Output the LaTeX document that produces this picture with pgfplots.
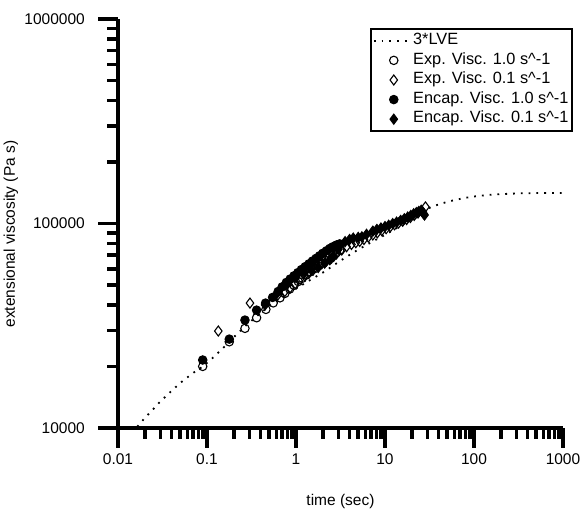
\documentclass[border=0pt]{standalone}
\usepackage{fontspec}
\setmainfont{Liberation Sans}
\usepackage{pgfplots}
\pgfplotsset{compat=1.18}
\pgfplotsset{
  lineleg/.style={legend image code/.code={\draw[##1] (0pt,0pt) -- (37pt,0pt);}},
  markleg/.style={legend image code/.code={\draw[##1] plot coordinates {(20pt,0pt)};}},
}
\tikzset{
  xlab/.style={anchor=base, inner sep=0pt, yshift=-37pt, font=\fontsize{15.5}{18}\selectfont},
  ylab/.style={anchor=east, inner sep=0pt, xshift=-33pt, font=\fontsize{15.5}{18}\selectfont},
}

\begin{document}
\begin{tikzpicture}
\useasboundingbox (-118pt,-82pt) rectangle (463pt,428pt);
\begin{axis}[
  at={(0pt,0pt)}, anchor=south west,
  scale only axis, width=445pt, height=409pt,
  xmode=log, ymode=log,
  xmin=0.01, xmax=1000, ymin=10000, ymax=1000000,
  axis x line*=bottom, axis y line*=left,
  axis line style={line width=4.5pt, -},
  tick align=outside,
  major tick length=20pt, minor tick length=11pt,
  tick style={black, line width=3.5pt},
  major tick style={black, line width=3.5pt},
  minor tick style={black, line width=3.5pt},
  xtick={0.01,0.1,1,10,100,1000},
  xticklabels={},
  minor xtick={0.02,0.03,0.04,0.05,0.06,0.07,0.08,0.09,0.2,0.3,0.4,0.5,0.6,0.7,0.8,0.9,2,3,4,5,6,7,8,9,20,30,40,50,60,70,80,90,200,300,400,500,600,700,800,900},
  ytick={10000,100000,1000000},
  yticklabels={},
  minor ytick={20000,30000,40000,50000,60000,70000,80000,90000,200000,300000,400000,500000,600000,700000,800000,900000},
  xlabel={time (sec)}, ylabel={extensional viscosity (Pa s)},
  every axis x label/.style={at={(axis description cs:0.5,-0.180)}, anchor=center, font=\fontsize{15.5}{18}\selectfont},
  every axis y label/.style={at={(axis description cs:-0.2405,0.474)}, anchor=center, rotate=90, font=\fontsize{15.5}{18}\selectfont},
  legend style={at={(1.0225,0.978)}, anchor=north east, draw=black, line width=2pt,
    font=\fontsize{16.3}{19}\selectfont, inner sep=2pt, row sep=0pt,
    nodes={inner sep=1.5pt, text height=12pt, text depth=4.6pt},
    cells={anchor=west}},
  clip=false,
]
\addplot[black, line width=1.8pt, dash pattern=on 1.8pt off 6pt, lineleg]
  coordinates {
  (0.0165,10150) (0.02,11200) (0.025,12400) (0.03,13500) (0.04,15200) (0.05,16600)
  (0.07,18600) (0.09,20000) (0.12,22300) (0.15,24500) (0.2,27800) (0.28,32000)
  (0.38,35800) (0.5,39500) (0.7,43500) (1,48000) (1.4,52500) (2,57500)
  (3.2,66000) (4.5,72500) (6,78000) (8,83500) (10,88000) (13,94000) (16,99500)
  (20,106000) (25,113000) (32,119500) (40,124000) (50,127500) (60,130000)
  (80,133500) (100,135500) (140,137800) (200,139200) (330,140400) (500,140800) (1000,141000)
  };
\addlegendentry{3*LVE}
\addplot[only marks, mark=o, mark size=4.2pt, black, line width=1.1pt,
  mark options={fill=white}, markleg]
  coordinates {
  (0.0895,20000) (0.178,26400) (0.267,30700) (0.361,34600) (0.459,38000) (0.555,40900)
  (0.661,43300) (0.75,45500) (0.85,47800) (0.95,49800) (1.06,52000) (1.18,54000)
  (1.31,56000) (1.45,58000) (1.6,60000) (1.77,62000) (1.95,64000) (2.15,66000)
  (2.37,68000) (2.6,70000) (2.85,72000) (3.1,74000)
  };
\addlegendentry{Exp. Visc. 1.0 s\^{}-1}
\addplot[only marks, mark=diamond, mark size=5pt, black, line width=1.1pt,
  mark options={fill=white}, markleg]
  coordinates {
  (0.134,29800) (0.304,40800) (0.62,44500) (0.75,46500) (0.86,48500) (0.98,50800)
  (1.11,53500) (1.25,55500) (1.4,57500) (1.56,59300) (1.75,61500) (1.95,63500)
  (2.2,65500) (2.5,67600) (2.85,71000) (3.27,74200) (3.7,77000) (4.2,79000)
  (4.7,80500) (5.2,81700) (5.8,83500) (6.5,85800) (7.3,87900) (8.2,90000)
  (9.2,92200) (10.3,94300) (11.5,96500) (12.8,98500) (14.2,100500) (15.8,102500)
  (17.5,104500) (19.3,107000) (21.3,109500) (23.5,112500) (25.8,115500) (28.5,120500)
  };
\addlegendentry{Exp. Visc. 0.1 s\^{}-1}
\addplot[only marks, mark=*, mark size=4.2pt, black, line width=1.1pt, markleg]
  coordinates {
  (0.0895,21500) (0.178,27200) (0.267,33700) (0.361,37700) (0.455,40800) (0.546,43500)
  (0.63,46500) (0.70,49000) (0.78,51500) (0.86,53500) (0.95,55500) (1.05,57500)
  (1.15,59500) (1.27,61500) (1.4,63500) (1.53,65500) (1.68,67500) (1.84,69500)
  (2.0,71500) (2.2,73500) (2.4,75500) (2.6,77000) (2.85,78500) (3.1,79500)
  };
\addlegendentry{Encap. Visc. 1.0 s\^{}-1}
\addplot[only marks, mark=diamond*, mark size=5pt, black, line width=1.1pt, markleg]
  coordinates {
  (0.45,40000) (0.6,45000) (0.8,50500) (1.0,54500) (1.25,57500) (1.5,59500)
  (1.78,61000) (2.1,64000) (2.4,66500) (2.65,69000) (3.0,75000) (3.56,81500)
  (4.0,83500) (4.4,84800) (5.0,85500) (5.5,86000) (6.2,88500) (7.3,91700)
  (8.1,93500) (9.0,95000) (10.0,96500) (11.0,98000) (12.2,99800) (13.5,101500)
  (15.0,103500) (16.5,105500) (18.0,107500) (19.5,109500) (21.0,111500) (22.5,113000)
  (24.0,114500) (25.5,116000) (26.5,114000) (27.2,111500) (27.8,110000)
  };
\addlegendentry{Encap. Visc. 0.1 s\^{}-1}
\node[xlab] at (axis cs:0.01,10000) {0.01};
\node[xlab] at (axis cs:0.1,10000) {0.1};
\node[xlab] at (axis cs:1,10000) {1};
\node[xlab] at (axis cs:10,10000) {10};
\node[xlab] at (axis cs:100,10000) {100};
\node[xlab] at (axis cs:1000,10000) {1000};
\node[ylab] at (axis cs:0.01,10000) {10000};
\node[ylab] at (axis cs:0.01,100000) {100000};
\node[ylab] at (axis cs:0.01,1000000) {1000000};
\end{axis}
\end{tikzpicture}
\end{document}
